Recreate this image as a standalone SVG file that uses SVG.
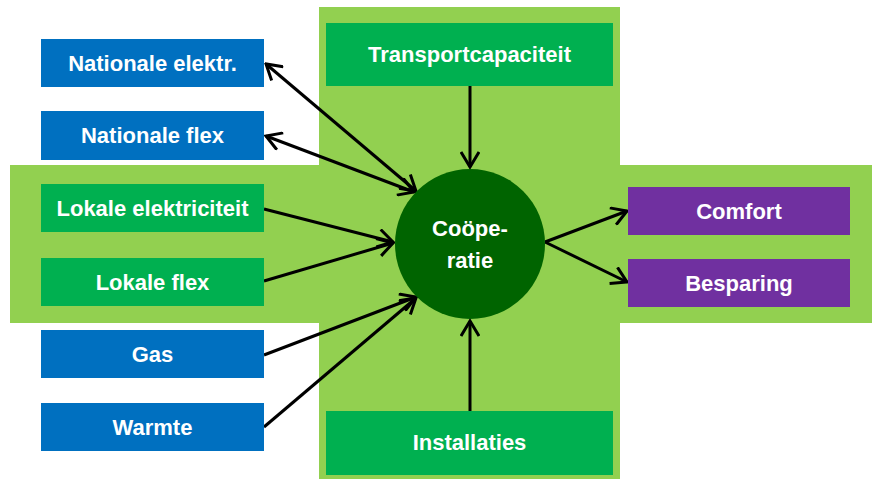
<svg xmlns="http://www.w3.org/2000/svg" width="872" height="479" viewBox="0 0 872 479">
  <style>
    .band { fill: #92D050; }
    .ext { fill: #0070C0; }
    .loc { fill: #00B050; }
    .out { fill: #7030A0; }
    .hub { fill: #006400; }
    text { font-family: "Liberation Sans", Arial, sans-serif; font-weight: bold; font-size: 22px; fill: #FFFFFF; text-anchor: middle; }
    .conn { stroke: #000000; stroke-width: 3; fill: none; }
  </style>
  <defs>
    <marker id="arrow" viewBox="0 0 18 20" refX="16" refY="10" markerWidth="18" markerHeight="20" markerUnits="userSpaceOnUse" orient="auto-start-reverse">
      <path d="M1,1 L16,10 L1,19" fill="none" stroke="#000000" stroke-width="3" stroke-linejoin="miter"/>
    </marker>
  </defs>

  <rect width="872" height="479" fill="#FFFFFF"/>

  <!-- background cross of the local domain -->
  <g id="background">
    <rect class="band" x="319" y="7" width="301" height="472"/>
    <rect class="band" x="10" y="165" width="862" height="158"/>
  </g>

  <!-- connectors -->
  <g id="connectors">
    <line class="conn" x1="266" y1="64" x2="416" y2="191" marker-start="url(#arrow)" marker-end="url(#arrow)"/>
    <line class="conn" x1="266" y1="136" x2="414" y2="192" marker-start="url(#arrow)" marker-end="url(#arrow)"/>
    <line class="conn" x1="264" y1="209" x2="393" y2="242" marker-end="url(#arrow)"/>
    <line class="conn" x1="264" y1="281" x2="393" y2="243" marker-end="url(#arrow)"/>
    <line class="conn" x1="264" y1="355" x2="416" y2="297" marker-end="url(#arrow)"/>
    <line class="conn" x1="264" y1="427" x2="416" y2="298" marker-end="url(#arrow)"/>
    <line class="conn" x1="470" y1="86" x2="470" y2="167" marker-end="url(#arrow)"/>
    <line class="conn" x1="470" y1="411" x2="470" y2="321" marker-end="url(#arrow)"/>
    <line class="conn" x1="545" y1="242" x2="627" y2="211" marker-end="url(#arrow)"/>
    <line class="conn" x1="545" y1="242" x2="627" y2="282" marker-end="url(#arrow)"/>
  </g>

  <g id="nationale-elektr">
    <rect class="ext" x="41" y="39" width="223" height="48"/>
    <text x="152.5" y="71">Nationale elektr.</text>
  </g>
  <g id="nationale-flex">
    <rect class="ext" x="41" y="111" width="223" height="49"/>
    <text x="152.5" y="143">Nationale flex</text>
  </g>
  <g id="lokale-elektriciteit">
    <rect class="loc" x="41" y="184" width="223" height="48"/>
    <text x="152.5" y="216">Lokale elektriciteit</text>
  </g>
  <g id="lokale-flex">
    <rect class="loc" x="41" y="258" width="223" height="48"/>
    <text x="152.5" y="290">Lokale flex</text>
  </g>
  <g id="gas">
    <rect class="ext" x="41" y="330" width="223" height="48"/>
    <text x="152.5" y="362">Gas</text>
  </g>
  <g id="warmte">
    <rect class="ext" x="41" y="403" width="223" height="48"/>
    <text x="152.5" y="435">Warmte</text>
  </g>
  <g id="transportcapaciteit">
    <rect class="loc" x="326" y="23" width="287" height="63"/>
    <text x="469.5" y="62">Transportcapaciteit</text>
  </g>
  <g id="installaties">
    <rect class="loc" x="326" y="411" width="287" height="64"/>
    <text x="469.5" y="450">Installaties</text>
  </g>
  <g id="cooperatie">
    <circle class="hub" cx="470" cy="244" r="75"/>
    <text x="470" y="236">Coöpe-</text>
    <text x="470" y="268">ratie</text>
  </g>
  <g id="comfort">
    <rect class="out" x="628" y="187" width="222" height="48"/>
    <text x="739" y="219">Comfort</text>
  </g>
  <g id="besparing">
    <rect class="out" x="628" y="259" width="222" height="48"/>
    <text x="739" y="291">Besparing</text>
  </g>
</svg>
